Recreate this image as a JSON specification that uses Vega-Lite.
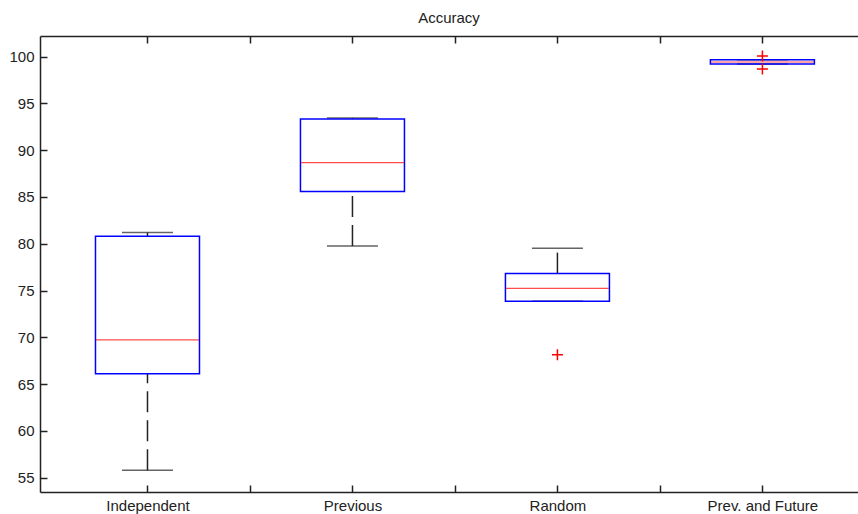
{
  "$schema": "https://vega.github.io/schema/vega-lite/v6.json",
  "width": 818,
  "height": 456,
  "autosize": "none",
  "padding": {"left": 40, "top": 36, "right": 0, "bottom": 22},
  "background": "white",
  "title": {"text": "Accuracy", "fontSize": 15, "fontWeight": "normal", "font": "Liberation Sans", "color": "#222222", "baseline": "alphabetic", "offset": -3, "anchor": "middle", "frame": "group"},
  "config": {
    "view": {"stroke": null},
    "axis": {"grid": false, "domainColor": "#222222", "domainWidth": 1.5, "tickColor": "#222222", "tickWidth": 1.5, "tickSize": -7, "labelFont": "Liberation Sans", "labelFontSize": 15, "labelColor": "#222222", "labelPadding": 13, "title": null}
  },
  "datasets": {
    "boxes": [
      {"name": "Independent", "pos": 1, "lo": 55.8, "q1": 66.12, "med": 69.72, "q3": 80.8, "hi": 81.19},
      {"name": "Previous", "pos": 2, "lo": 79.77, "q1": 85.57, "med": 88.67, "q3": 93.34, "hi": 93.45},
      {"name": "Random", "pos": 3, "lo": 73.85, "q1": 73.85, "med": 75.24, "q3": 76.81, "hi": 79.52},
      {"name": "Prev. and Future", "pos": 4, "lo": 99.2, "q1": 99.2, "med": 99.42, "q3": 99.65, "hi": 99.65}
    ],
    "outliers": [
      {"name": "Random", "pos": 3, "v": 68.15},
      {"name": "Prev. and Future", "pos": 4, "v": 100.05},
      {"name": "Prev. and Future", "pos": 4, "v": 98.67}
    ]
  },
  "resolve": {"axis": {"x": "independent"}},
  "layer": [
    {
      "data": {"name": "boxes"},
      "mark": {"type": "rule", "stroke": "#222222", "strokeWidth": 1.5, "strokeDash": [21, 8]},
      "encoding": {
        "x": {"field": "pos", "type": "quantitative", "scale": {"domain": [0.5, 4.442], "nice": false, "zero": false},
          "axis": {"orient": "bottom", "values": [1, 1.5, 2, 2.5, 3, 3.5, 4], "labelExpr": "datum.value == 1 ? 'Independent' : datum.value == 2 ? 'Previous' : datum.value == 3 ? 'Random' : datum.value == 4 ? 'Prev. and Future' : ''"}},
        "y": {"field": "lo", "type": "quantitative", "scale": {"domain": [53.47, 102.2], "nice": false, "zero": false},
          "axis": {"orient": "left", "values": [55, 60, 65, 70, 75, 80, 85, 90, 95, 100]}},
        "y2": {"field": "q1"}
      }
    },
    {
      "data": {"name": "boxes"},
      "mark": {"type": "rule", "stroke": "#222222", "strokeWidth": 1.5, "strokeDash": [21, 8]},
      "encoding": {
        "x": {"field": "pos", "type": "quantitative", "scale": {"domain": [0.5, 4.442], "nice": false, "zero": false},
          "axis": {"orient": "top", "values": [1, 1.5, 2, 2.5, 3, 3.5, 4], "labels": false}},
        "y": {"field": "q3", "type": "quantitative", "scale": {"domain": [53.47, 102.2], "nice": false, "zero": false},
          "axis": {"orient": "left", "values": [55, 60, 65, 70, 75, 80, 85, 90, 95, 100]}},
        "y2": {"field": "hi"}
      }
    },
    {
      "data": {"name": "boxes"},
      "mark": {"type": "tick", "orient": "horizontal", "color": "#222222", "size": 51, "thickness": 1.5},
      "encoding": {
        "x": {"field": "pos", "type": "quantitative", "scale": {"domain": [0.5, 4.442], "nice": false, "zero": false}, "axis": null},
        "y": {"field": "lo", "type": "quantitative", "scale": {"domain": [53.47, 102.2], "nice": false, "zero": false},
          "axis": {"orient": "left", "values": [55, 60, 65, 70, 75, 80, 85, 90, 95, 100]}}
      }
    },
    {
      "data": {"name": "boxes"},
      "mark": {"type": "tick", "orient": "horizontal", "color": "#222222", "size": 51, "thickness": 1.5},
      "encoding": {
        "x": {"field": "pos", "type": "quantitative", "scale": {"domain": [0.5, 4.442], "nice": false, "zero": false}, "axis": null},
        "y": {"field": "hi", "type": "quantitative", "scale": {"domain": [53.47, 102.2], "nice": false, "zero": false},
          "axis": {"orient": "left", "values": [55, 60, 65, 70, 75, 80, 85, 90, 95, 100]}}
      }
    },
    {
      "data": {"name": "boxes"},
      "mark": {"type": "bar", "size": 104, "fill": "white", "fillOpacity": 0, "stroke": "#0000ff", "strokeWidth": 1.5},
      "encoding": {
        "x": {"field": "pos", "type": "quantitative", "scale": {"domain": [0.5, 4.442], "nice": false, "zero": false}, "axis": null},
        "y": {"field": "q1", "type": "quantitative", "scale": {"domain": [53.47, 102.2], "nice": false, "zero": false},
          "axis": {"orient": "left", "values": [55, 60, 65, 70, 75, 80, 85, 90, 95, 100]}},
        "y2": {"field": "q3"}
      }
    },
    {
      "data": {"name": "boxes"},
      "mark": {"type": "tick", "orient": "horizontal", "color": "#ff0000", "size": 103, "thickness": 1.2},
      "encoding": {
        "x": {"field": "pos", "type": "quantitative", "scale": {"domain": [0.5, 4.442], "nice": false, "zero": false}, "axis": null},
        "y": {"field": "med", "type": "quantitative", "scale": {"domain": [53.47, 102.2], "nice": false, "zero": false},
          "axis": {"orient": "left", "values": [55, 60, 65, 70, 75, 80, 85, 90, 95, 100]}}
      }
    },
    {
      "data": {"name": "outliers"},
      "mark": {"type": "point", "shape": "M-1,0H1M0,-1V1", "size": 121, "filled": false, "stroke": "#ff0000", "strokeWidth": 1.5, "opacity": 1},
      "encoding": {
        "x": {"field": "pos", "type": "quantitative", "scale": {"domain": [0.5, 4.442], "nice": false, "zero": false}, "axis": null},
        "y": {"field": "v", "type": "quantitative", "scale": {"domain": [53.47, 102.2], "nice": false, "zero": false},
          "axis": {"orient": "left", "values": [55, 60, 65, 70, 75, 80, 85, 90, 95, 100]}}
      }
    }
  ]
}
